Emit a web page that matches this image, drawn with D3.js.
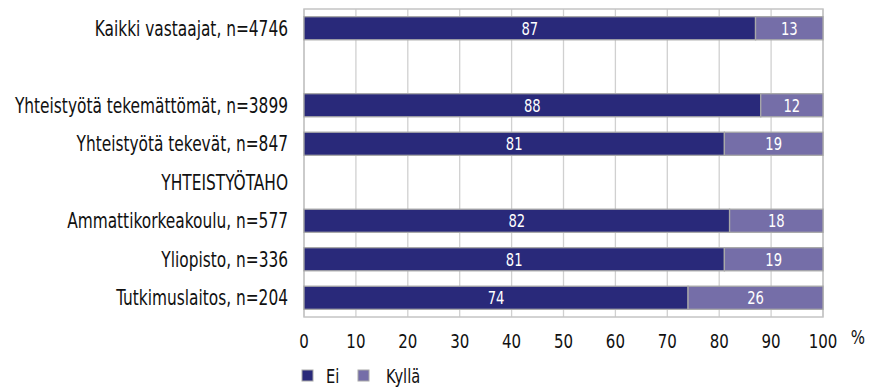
<!DOCTYPE html>
<html><head><meta charset="utf-8">
<script src="https://cdn.jsdelivr.net/npm/d3@7"></script>
<style>body{margin:0;background:#fff}svg{display:block}text{font-family:"DejaVu Sans Condensed","Liberation Sans Narrow",sans-serif}</style>
</head><body><svg width="870" height="389"></svg>
<script>
const categories = ["Kaikki vastaajat, n=4746","","Yhteistyötä tekemättömät, n=3899","Yhteistyötä tekevät, n=847","YHTEISTYÖTAHO","Ammattikorkeakoulu, n=577","Yliopisto, n=336","Tutkimuslaitos, n=204"];
const ei    = [87, null, 88, 81, null, 82, 81, 74];
const kylla = [13, null, 12, 19, null, 18, 19, 26];
const seriesNames = ["Ei","Kyllä"];
const colors = ["#29297a","#756ea8"];
const xTicks = [0,10,20,30,40,50,60,70,80,90,100];

const SX = 0.835;
const svg = d3.select("svg");
const m = {l:304, r:823, t:9, b:317};
const x = d3.scaleLinear().domain([0,100]).range([m.l,m.r]);
const y = d3.scaleBand().domain(categories.map((c,i)=>i)).range([m.t,m.b]).paddingInner(0.4).paddingOuter(0.2);

function label(parent, tx, ty, txt, size, anchor, fill){
  return parent.append("text").attr("transform",`translate(${tx},${ty}) scale(${SX},1)`)
    .attr("dy","0.36em").attr("text-anchor",anchor).attr("font-size",size).attr("fill",fill).text(txt);
}

// grid
svg.append("g").selectAll("line").data(xTicks).join("line")
  .attr("x1",d=>x(d)).attr("x2",d=>x(d)).attr("y1",m.t).attr("y2",m.b)
  .attr("stroke","#d0d0d0").attr("stroke-width",1.3);
svg.append("rect").attr("x",m.l).attr("y",m.t).attr("width",m.r-m.l).attr("height",m.b-m.t)
  .attr("fill","none").attr("stroke","#c4c4c4").attr("stroke-width",1.5);

const rows = categories.map((c,i)=>({i, ei:ei[i], ky:kylla[i]})).filter(d=>d.ei!=null);
const g = svg.append("g");
rows.forEach(d=>{
  const segs = [[0,d.ei,colors[0]],[d.ei,d.ei+d.ky,colors[1]]];
  segs.forEach(([a,b,c])=>{
    g.append("rect").attr("x",x(a)).attr("y",y(d.i)).attr("width",x(b)-x(a)).attr("height",y.bandwidth())
      .attr("fill",c).attr("stroke","#a8a8a8").attr("stroke-width",1.3);
    label(g,(x(a)+x(b))/2,y(d.i)+y.bandwidth()/2,b-a,17.5,"middle","#fff");
  });
});

// category labels
const cl = svg.append("g");
categories.forEach((c,i)=>label(cl,288,y(i)+y.bandwidth()/2,c,20.5,"end","#111"));

// x axis labels
const ax = svg.append("g");
xTicks.forEach(t=>label(ax,x(t),341,t,20,"middle","#111"));
label(ax,858,337,"%",20,"middle","#111");

// legend
const lg = svg.append("g");
seriesNames.forEach((s,i)=>{
  const lx = [302,358][i];
  lg.append("rect").attr("x",lx).attr("y",370).attr("width",11).attr("height",11).attr("fill",colors[i]).attr("stroke","#a8a8a8");
  label(lg,[326,386][i],376,s,19.5,"start","#111");
});
</script></body></html>
